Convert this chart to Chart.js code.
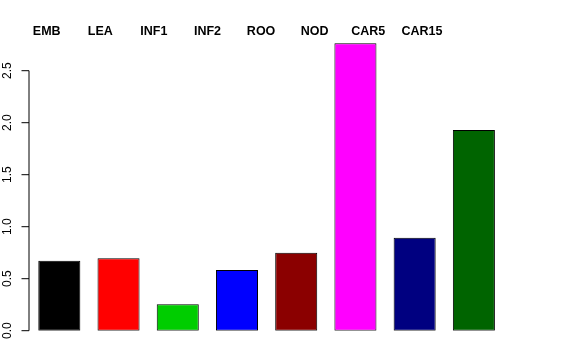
<!DOCTYPE html>
<html lang="en">
<head>
    <meta charset="UTF-8">
    <title>Barplot</title>
    <script src="https://cdn.jsdelivr.net/npm/chart.js@4/dist/chart.umd.min.js"></script>
    <style>
        html, body { margin: 0; padding: 0; background: #fff; }
        #wrap { width: 576px; height: 360px; }
    </style>
</head>
<body>
<div id="wrap"><canvas id="barChart"></canvas></div>
<script>
    // values
    const categories = ['EMB', 'LEA', 'INF1', 'INF2', 'ROO', 'NOD', 'CAR5', 'CAR15'];
    const values = [0.673, 0.696, 0.254, 0.584, 0.75, 2.763, 0.894, 1.93];
    const colors = ['#000000', '#ff0000', '#00cd00', '#0000ff', '#8b0000', '#ff00ff', '#000080', '#006400'];
    const yTicks = [0, 0.5, 1, 1.5, 2, 2.5];

    // R-style axis: line only across tick range, rotated labels, top labels
    const rAxis = {
        id: 'rAxis',
        afterDraw(chart) {
            const ctx = chart.ctx;
            const y = chart.scales.y;
            const x = chart.scales.x;
            const ax = 29;
            ctx.save();
            ctx.strokeStyle = '#000';
            ctx.lineWidth = 1;
            ctx.beginPath();
            ctx.moveTo(ax, y.getPixelForValue(yTicks[0]));
            ctx.lineTo(ax, y.getPixelForValue(yTicks[yTicks.length - 1]));
            yTicks.forEach(v => {
                const py = y.getPixelForValue(v);
                ctx.moveTo(ax, py);
                ctx.lineTo(ax - 7.5, py);
            });
            ctx.stroke();

            ctx.fillStyle = '#000';
            ctx.font = '12px "Liberation Sans", Arial, sans-serif';
            ctx.textAlign = 'center';
            ctx.textBaseline = 'alphabetic';
            yTicks.forEach(v => {
                const py = y.getPixelForValue(v);
                ctx.save();
                ctx.translate(10.5, py);
                ctx.rotate(-Math.PI / 2);
                ctx.fillText(v.toFixed(1), 0, 0);
                ctx.restore();
            });

            // group labels across the top (slightly tighter spacing than bars)
            ctx.font = 'bold 12.5px "Liberation Sans", Arial, sans-serif';
            categories.forEach((c, i) => {
                const px = x.getPixelForValue(-0.213 + 0.905 * i);
                ctx.fillText(c, px, 34.5);
            });
            ctx.restore();
        }
    };

    const ctx = document.getElementById('barChart').getContext('2d');
    const chart = new Chart(ctx, {
        type: 'bar',
        data: {
            labels: categories,
            datasets: [{
                data: values,
                backgroundColor: colors,
                borderColor: '#000',
                borderWidth: 1,
                borderSkipped: false,
                categoryPercentage: 1,
                barPercentage: 0.71
            }]
        },
        options: {
            responsive: true,
            maintainAspectRatio: false,
            animation: false,
            layout: {
                padding: { left: 0, right: 72.5, top: 29.1, bottom: 29.3 }
            },
            plugins: {
                legend: { display: false },
                tooltip: { enabled: false }
            },
            scales: {
                x: {
                    display: false,
                    offset: true
                },
                y: {
                    min: 0,
                    max: 2.9,
                    ticks: { display: false },
                    grid: { display: false },
                    border: { display: false },
                    afterFit(scale) { scale.width = 29.7; }
                }
            }
        },
        plugins: [rAxis]
    });
</script>
</body>
</html>
